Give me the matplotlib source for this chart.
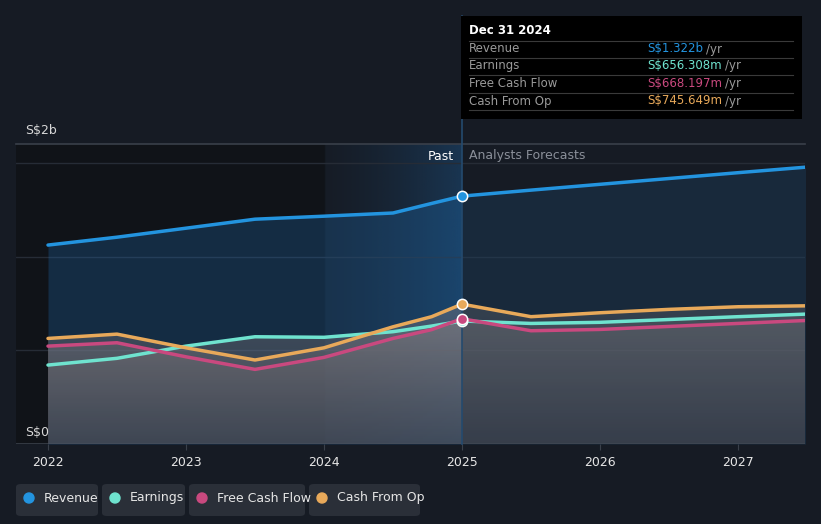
import numpy as np
import matplotlib.pyplot as plt
from matplotlib.patches import FancyBboxPatch, Rectangle, Ellipse

# past values (S$ billions)
past_years = [2022.0, 2022.5, 2023.0, 2023.5, 2024.0, 2024.5, 2024.78, 2025.0]
past_revenue = [1.061, 1.103, 1.151, 1.199, 1.215, 1.232, 1.283, 1.322]
past_earnings = [0.421, 0.457, 0.522, 0.572, 0.569, 0.599, 0.629, 0.656]
past_fcf = [0.522, 0.540, 0.465, 0.398, 0.462, 0.563, 0.610, 0.668]
past_cfo = [0.563, 0.586, 0.513, 0.448, 0.513, 0.625, 0.679, 0.746]

# analyst forecasts
fc_years = [2025.0, 2025.5, 2026.0, 2026.5, 2027.0, 2027.5]
fc_revenue = [1.322, 1.354, 1.385, 1.416, 1.447, 1.477]
fc_earnings = [0.656, 0.643, 0.649, 0.664, 0.679, 0.693]
fc_fcf = [0.668, 0.604, 0.611, 0.627, 0.643, 0.659]
fc_cfo = [0.746, 0.679, 0.700, 0.718, 0.732, 0.737]

series_names = ["Revenue", "Earnings", "Free Cash Flow", "Cash From Op"]
series_colors = ["#2394df", "#6fe3cf", "#c9497f", "#e8a95a"]
tooltip_values = ["S$1.322b", "S$656.308m", "S$668.197m", "S$745.649m"]
year_ticks = [2022, 2023, 2024, 2025, 2026, 2027]

BG = "#161b24"
fig = plt.figure(figsize=(8.21, 5.24), dpi=100, facecolor=BG)
ax = fig.add_axes([16 / 821, 80 / 524, 789 / 821, 300 / 524])
ax.set_facecolor(BG)
x0, x1 = 2022 - 32 / 138, 2022 + 757 / 138

# background zones
ax.axvspan(x0, 2024, color="#101318", zorder=0)
grad = np.zeros((2, 256, 4))
grad[..., :3] = np.array([0x1c, 0x4a, 0x75]) / 255
grad[..., 3] = np.linspace(0.1, 0.7, 256) ** 1.6
ax.imshow(grad, extent=[2024, 2025, 0, 1.6], aspect="auto", zorder=0.5)

# grid
for g in [0.5, 1.0, 1.5]:
    ax.axhline(g, color="#262c36", lw=1, zorder=1)
ax.axhline(1.6, color="#3a404a", lw=1.2, zorder=1, clip_on=False)
ax.axhline(0, color="#3a404a", lw=1.2, zorder=1)

# revenue fill
ax.fill_between(past_years, 0, past_revenue, color="#1f6fb5", alpha=0.28, lw=0, zorder=2)
ax.fill_between(fc_years, 0, fc_revenue, color="#1e4a72", alpha=0.3, lw=0, zorder=2)


def grey_gradient(alpha, top, bottom):
    g = np.zeros((256, 2, 4))
    for k in range(3):
        g[..., k] = np.linspace(top[k], bottom[k], 256)[:, None]
    g[..., 3] = alpha
    return g


past_grad = grey_gradient(0.38, (0.58, 0.54, 0.54), (0.30, 0.31, 0.35))
fc_grad = grey_gradient(0.30, (0.48, 0.48, 0.50), (0.28, 0.29, 0.33))
for yrs, ys_list, gimg in [(past_years, [past_earnings, past_fcf, past_cfo], past_grad),
                           (fc_years, [fc_earnings, fc_fcf, fc_cfo], fc_grad)]:
    for ys in ys_list:
        poly = ax.fill_between(yrs, 0, ys, color="none", lw=0)
        im = ax.imshow(gimg, extent=[x0, x1, 0, 0.8], aspect="auto", zorder=2.5, origin="upper")
        im.set_clip_path(poly.get_paths()[0], transform=ax.transData)
ax.set_xlim(x0, x1)
ax.set_ylim(0, 1.6)

# lines
past_list = [past_revenue, past_earnings, past_fcf, past_cfo]
fc_list = [fc_revenue, fc_earnings, fc_fcf, fc_cfo]
for i in [1, 2, 3, 0]:
    ax.plot(past_years, past_list[i], color=series_colors[i], lw=2.5, zorder=4,
            solid_capstyle="round", solid_joinstyle="round")
    ax.plot(fc_years, fc_list[i], color=series_colors[i], lw=2.5, zorder=4,
            solid_capstyle="round", solid_joinstyle="round")

# divider line at the tooltip date
ax.plot([2025, 2025], [0, 1.6 + 128 / 187.5], color="#244a6e", lw=1.2, zorder=3, clip_on=False)

for i in [1, 2, 3, 0]:
    ax.scatter([2025], [past_list[i][-1]], s=55, color=series_colors[i],
               edgecolor="white", linewidth=1.1, zorder=6)

# axes styling
for s in ax.spines.values():
    s.set_visible(False)
ax.set_yticks([])
ax.set_xticks(year_ticks)
ax.set_xticklabels([str(y) for y in year_ticks], color="#e6e6e6", fontsize=9)
ax.tick_params(axis="x", length=4, color="#3a404a", pad=5)

ax.text(0.0115, 1.6 + 13 / 187.5, "S$2b", color="#d8d8d8", fontsize=9, va="center",
        transform=ax.get_yaxis_transform())
ax.text(0.0115, 12 / 187.5, "S$0", color="#d8d8d8", fontsize=9, va="center",
        transform=ax.get_yaxis_transform())
ax.text(2024.94, 1.6 - 12 / 187.5, "Past", color="#ffffff", fontsize=9, ha="right", va="center")
ax.text(2025.05, 1.6 - 12 / 187.5, "Analysts Forecasts", color="#8a8f99", fontsize=9,
        ha="left", va="center")

# tooltip box
fig.patches.append(Rectangle((461 / 821, 1 - 119 / 524), 341 / 821, 103 / 524,
                             transform=fig.transFigure, facecolor="#000000", edgecolor="none", zorder=5))
fig.text(469 / 821, 1 - 31 / 524, "Dec 31 2024", color="#ffffff", fontsize=8.5,
         fontweight="semibold", va="center", zorder=6)
row_y = [49, 66, 84, 101]
for sep in [41, 58, 75, 93, 110]:
    fig.lines.append(plt.Line2D([469 / 821, 793 / 821], [1 - sep / 524] * 2,
                                transform=fig.transFigure, color="#3a3a3a", lw=0.8, zorder=6))
fig.canvas.draw()
for name, val, col, ry in zip(series_names, tooltip_values, series_colors, row_y):
    fig.text(469 / 821, 1 - ry / 524, name, color="#9a9a9a", fontsize=8.5, va="center", zorder=6)
    t = fig.text(647 / 821, 1 - ry / 524, val, color=col, fontsize=8.5, va="center", zorder=6)
    bb = t.get_window_extent(renderer=fig.canvas.get_renderer())
    fig.text(bb.x1 / 821 + 3 / 821, 1 - ry / 524, "/yr", color="#9a9a9a", fontsize=8.5,
             va="center", zorder=6)

# legend chips
chips = [(16, 98), (102, 185), (189, 305), (309, 420)]
for (l, r), name, col in zip(chips, series_names, series_colors):
    fig.patches.append(FancyBboxPatch((l / 821, 1 - 516 / 524), (r - l) / 821, 32 / 524,
                                      boxstyle="round,pad=0,rounding_size=0.006",
                                      transform=fig.transFigure, facecolor="#2a2f38",
                                      edgecolor="none", zorder=1))
    fig.patches.append(Ellipse(((l + 13) / 821, 1 - 498 / 524), 10 / 821, 10 / 524, color=col,
                               transform=fig.transFigure, zorder=2))
    fig.text((l + 28) / 821, 1 - 498 / 524, name, color="#e6e6e6", fontsize=9, va="center")

fig.savefig("out.png", dpi=100, facecolor=BG)
